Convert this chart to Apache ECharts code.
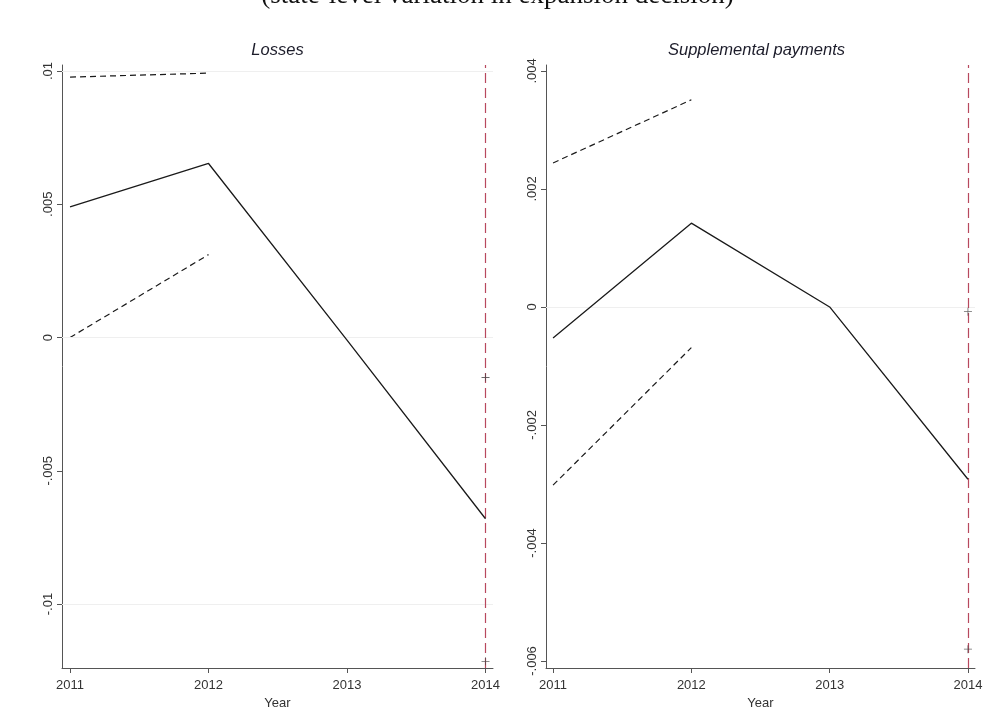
<!DOCTYPE html>
<html>
<head>
<meta charset="utf-8">
<script src="https://cdn.jsdelivr.net/npm/echarts@6/dist/echarts.min.js"></script>
<style>
  html, body { margin: 0; padding: 0; background: #ffffff; }
  #chart { width: 995px; height: 707px; }
</style>
</head>
<body>
<div id="chart"></div>
<script>
// Event-study estimates by year, two outcomes
const years = [2011, 2012, 2013, 2014];
const ciYears = [2011, 2012];
const capYears = [2014, 2014];
const refYear = 2014;

const lossesEst = [0.0049, 0.00653, -0.0001, -0.0068];
const lossesUpper = [0.00977, 0.00992];
const lossesLower = [0.0000, 0.00311];
const lossesCaps = [-0.0015, -0.01215];
const lossesTicks = [-0.01, -0.005, 0, 0.005, 0.01];

const suppEst = [-0.000525, 0.00142, 0.0, -0.00292];
const suppUpper = [0.00244, 0.00351];
const suppLower = [-0.00302, -0.00069];
const suppCaps = [-0.00008, -0.0058];
const suppTicks = [-0.006, -0.004, -0.002, 0, 0.002, 0.004];

const panelTitles = ['Losses', 'Supplemental payments'];
const mainTitle = '(state-level variation in expansion decision)';
const xName = 'Year';

const pair = (xs, ys) => xs.map((x, i) => [x, ys[i]]);

// Stata-style number labels: ".005", "-.01", "0"
function stataNum(v) {
  if (Math.abs(v) < 1e-12) return '0';
  let s = String(parseFloat(v.toPrecision(6)));
  return s.replace(/^(-?)0\./, '$1.');
}

const sans = 'Liberation Sans, Arial, sans-serif';
const axisColor = '#555555';
const labelColor = '#333333';

const grids = [
  { left: 62, top: 65, width: 431, height: 603, outerBoundsMode: 'none', containLabel: false },
  { left: 546, top: 65, width: 429, height: 603, outerBoundsMode: 'none', containLabel: false }
];

function makeXAxis(gi, min, max) {
  return {
    type: 'value', gridIndex: gi, min: min, max: max,
    name: xName, nameLocation: 'middle', nameGap: 20,
    nameTextStyle: { fontFamily: sans, fontSize: 13, color: labelColor },
    axisLine: { show: true, onZero: false, lineStyle: { color: axisColor, width: 1 } },
    axisTick: { show: true, length: 5, customValues: years, lineStyle: { color: axisColor } },
    axisLabel: { customValues: years, margin: 11, fontFamily: sans, fontSize: 13, color: labelColor,
      formatter: v => String(v) },
    splitLine: { show: false }
  };
}

function makeYAxis(gi, min, max, ticks) {
  return {
    type: 'value', gridIndex: gi, min: min, max: max,
    axisLine: { show: true, onZero: false, lineStyle: { color: axisColor, width: 1 } },
    axisTick: { show: true, length: 5, customValues: ticks, lineStyle: { color: axisColor } },
    axisLabel: { customValues: ticks, rotate: 90, margin: 7, fontFamily: sans, fontSize: 13,
      color: labelColor, formatter: stataNum },
    splitLine: { show: false }
  };
}

function panelSeries(gi, est, upper, lower, caps, ticks) {
  return [
    {
      // faint horizontal grid at the labelled values
      type: 'line', xAxisIndex: gi, yAxisIndex: gi, data: [], silent: true,
      markLine: {
        silent: true, symbol: 'none', label: { show: false },
        lineStyle: { color: '#efefef', width: 1, type: 'solid' },
        data: ticks.map(t => ({ yAxis: t }))
      }
    },
    {
      // reference-year marker
      type: 'line', xAxisIndex: gi, yAxisIndex: gi, data: [], silent: true,
      markLine: {
        silent: true, symbol: 'none', label: { show: false },
        lineStyle: { color: '#b8485e', width: 1.2, type: [10, 5], opacity: 1 },
        emphasis: { disabled: true },
        data: [{ xAxis: refYear }]
      },
      z: 3
    },
    {
      type: 'line', xAxisIndex: gi, yAxisIndex: gi, data: pair(years, est),
      symbol: 'none', lineStyle: { color: '#1a1a1a', width: 1.3 }, z: 5
    },
    {
      type: 'line', xAxisIndex: gi, yAxisIndex: gi, data: pair(ciYears, upper),
      symbol: 'none', lineStyle: { color: '#1a1a1a', width: 1.2, type: [6, 4] }, z: 4
    },
    {
      type: 'line', xAxisIndex: gi, yAxisIndex: gi, data: pair(ciYears, lower),
      symbol: 'none', lineStyle: { color: '#1a1a1a', width: 1.2, type: [6, 4] }, z: 4
    },
    {
      type: 'scatter', xAxisIndex: gi, yAxisIndex: gi, data: pair(capYears, caps),
      symbol: 'path://M4.5,0h1v10h-1zM0,4.5h10v1h-10z', symbolSize: 8,
      itemStyle: { color: '#444444' }, z: 6
    }
  ];
}

const chart = echarts.init(document.getElementById('chart'), null, { renderer: 'canvas' });

chart.setOption({
  backgroundColor: '#ffffff',
  animation: false,
  grid: grids,
  xAxis: [
    makeXAxis(0, 2010.942, 2014.054),
    makeXAxis(1, 2010.949, 2014.051)
  ],
  yAxis: [
    makeYAxis(0, -0.0124, 0.010225, lossesTicks),
    makeYAxis(1, -0.006119, 0.0041, suppTicks)
  ],
  graphic: [
    {
      type: 'text', left: 'center', top: -18,
      style: { text: mainTitle, font: '27px "Liberation Serif", "Times New Roman", serif', fill: '#111111' }
    },
    {
      type: 'text', x: 62 + 431 / 2, y: 50,
      style: { text: panelTitles[0], font: 'italic 16.5px "Liberation Sans", Arial, sans-serif',
        fill: '#1c1c2a', align: 'center', verticalAlign: 'middle' }
    },
    {
      type: 'text', x: 546 + 429 / 2 - 4, y: 50,
      style: { text: panelTitles[1], font: 'italic 16.5px "Liberation Sans", Arial, sans-serif',
        fill: '#1c1c2a', align: 'center', verticalAlign: 'middle' }
    }
  ],
  series: [
    ...panelSeries(0, lossesEst, lossesUpper, lossesLower, lossesCaps, lossesTicks),
    ...panelSeries(1, suppEst, suppUpper, suppLower, suppCaps, suppTicks)
  ]
});
</script>
</body>
</html>
